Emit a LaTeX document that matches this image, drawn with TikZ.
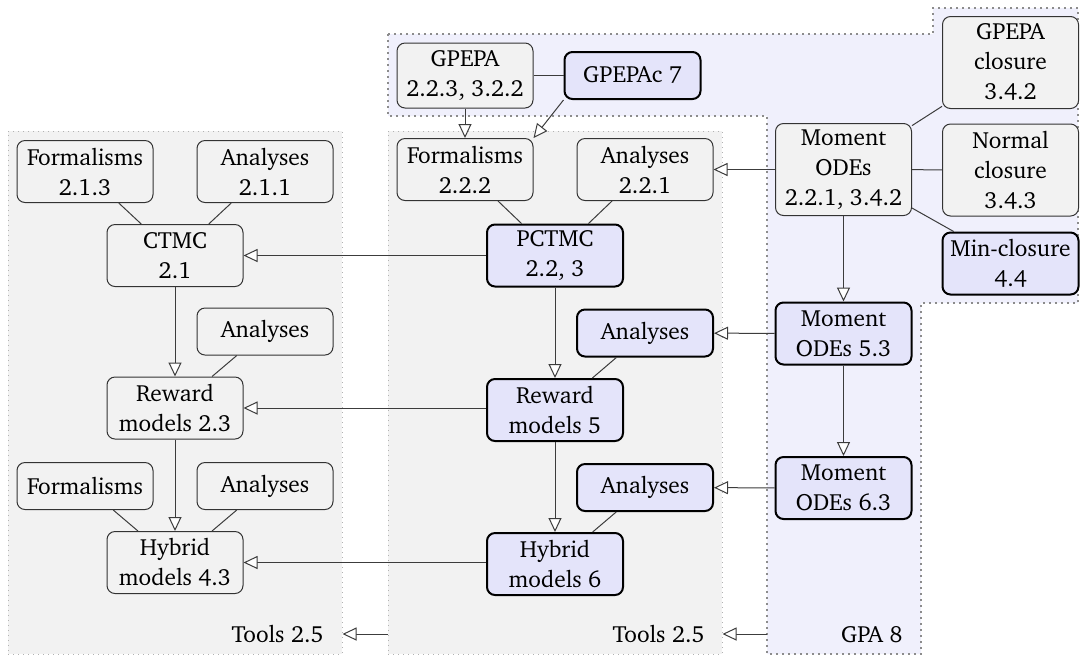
\documentclass[tikz,border=0pt]{standalone}
\usepackage[T1]{fontenc}
\usepackage{charter}
\usetikzlibrary{arrows.meta}

\definecolor{regiongray}{RGB}{242,242,242}
\definecolor{regionblue}{RGB}{240,240,252}
\definecolor{nodeblue}{RGB}{228,228,250}
\definecolor{edgegray}{RGB}{60,60,60}

\tikzset{
  box/.style={draw=black!80, fill=regiongray, line width=0.5pt,
    rounded corners=4pt, minimum width=68pt, inner sep=2pt, align=center},
  newbox/.style={box, draw=black, fill=nodeblue, line width=1pt},
  oneline/.style={minimum height=23.5pt},
  twoline/.style={minimum height=31pt},
  threeline/.style={minimum height=46pt},
  region/.style={draw=black!30, fill=regiongray, dotted, line width=0.5pt,
    inner sep=0pt},
  link/.style={draw=edgegray, line width=0.5pt},
  uses/.style={link, -{Triangle[open, fill=white, length=7pt, width=6.5pt]}},
  caption/.style={anchor=base east, inner sep=0pt}
}

\begin{document}
\begin{tikzpicture}[x=0.5pt, y=-0.5pt,
  font=\fontsize{11.7pt}{15pt}\selectfont]
\useasboundingbox (0,0) rectangle (1080,655);

% GPA region
\draw[fill=regionblue, draw=black!45, dotted, line width=1pt]
  (388,34) -- (933,34) -- (933,8) -- (1078,8) -- (1078,303) -- (921,303)
  -- (921,654) -- (767,654) -- (767,116) -- (388,116) -- cycle;
\coordinate (gpawest) at (767,634);

% tool regions
\node[region, minimum width=167pt, minimum height=261.5pt] (toolsleft) at (175,392.5) {};
\node[region, minimum width=167pt, minimum height=261.5pt] (toolsmid) at (555,392.5) {};

% CTMC column
\node[box, twoline] (f1) at (85,171.5) {Formalisms\\2.1.3};
\node[box, twoline] (a1) at (265,171.5) {Analyses\\2.1.1};
\node[box, twoline] (ctmc) at (175,255.5) {CTMC\\2.1};
\node[box, oneline] (a1b) at (265,331.5) {Analyses};
\node[box, twoline] (rw1) at (175,408) {Reward\\models 2.3};
\node[box, oneline] (f1c) at (85,486) {Formalisms};
\node[box, oneline] (a1c) at (265,486) {Analyses};
\node[box, twoline] (hy1) at (175,562.5) {Hybrid\\models 4.3};

% PCTMC column
\node[box, twoline] (f2) at (465,169.5) {Formalisms\\2.2.2};
\node[box, twoline] (a2) at (645,169.5) {Analyses\\2.2.1};
\node[newbox, twoline] (pctmc) at (555,255.5) {PCTMC\\2.2, 3};
\node[newbox, oneline] (a2b) at (645,333) {Analyses};
\node[newbox, twoline] (rw2) at (555,410) {Reward\\models 5};
\node[newbox, oneline] (a2c) at (645,487.5) {Analyses};
\node[newbox, twoline] (hy2) at (555,564) {Hybrid\\models 6};

% process algebras
\node[box, twoline, minimum height=32.5pt] (gpepa) at (465,75.5) {GPEPA\\2.2.3, 3.2.2};
\node[newbox, oneline] (gpepac) at (632.5,75.5) {GPEPAc 7};

% moment closures
\node[box, threeline] (mo) at (843.5,169.5) {Moment\\ODEs\\2.2.1, 3.4.2};
\node[box, threeline] (gc) at (1010.5,62.5) {GPEPA\\closure\\3.4.2};
\node[box, threeline] (nc) at (1010.5,170) {Normal\\closure\\3.4.3};
\node[newbox, twoline] (mc) at (1010.5,263.5) {Min-closure\\4.4};
\node[newbox, twoline] (mo5) at (843.5,333.5) {Moment\\ODEs 5.3};
\node[newbox, twoline] (mo6) at (843.5,488) {Moment\\ODEs 6.3};

% region captions
\node[caption] (t1) at (324,642) {Tools 2.5};
\node[caption] (t2) at (705,642) {Tools 2.5};
\node[caption] (t3) at (903,642) {GPA 8};

% connectors, CTMC column
\draw[link] (f1) -- (ctmc);
\draw[link] (a1) -- (ctmc);
\draw[uses] (ctmc) -- (rw1);
\draw[link] (a1b) -- (rw1);
\draw[uses] (rw1) -- (hy1);
\draw[link] (f1c) -- (hy1);
\draw[link] (a1c) -- (hy1);

% connectors, PCTMC column
\draw[link] (f2) -- (pctmc);
\draw[link] (a2) -- (pctmc);
\draw[uses] (pctmc) -- (rw2);
\draw[link] (a2b) -- (rw2);
\draw[uses] (rw2) -- (hy2);
\draw[link] (a2c) -- (hy2);

% population models generalise the CTMC ones
\draw[uses] (pctmc) -- (ctmc);
\draw[uses] (rw2.west |- rw1) -- (rw1);
\draw[uses] (hy2.west |- hy1) -- (hy1);

% process algebras
\draw[link] (gpepa) -- (gpepac);
\draw[uses] (gpepa) -- (f2);
\draw[uses] (gpepac.south west) -- (f2.north east);

% moment ODEs
\draw[uses] (mo) -- (a2);
\draw[link] (mo) -- (gc);
\draw[link] (mo) -- (nc);
\draw[link] (mo) -- (mc);
\draw[uses] (mo) -- (mo5);
\draw[uses] (mo5) -- (mo6);
\draw[uses] (mo5) -- (a2b);
\draw[uses] (mo6) -- (a2c);

% tools
\draw[uses] (gpawest) -- (toolsmid.east |- gpawest);
\draw[uses] (toolsmid.west |- gpawest) -- (toolsleft.east |- gpawest);
\end{tikzpicture}
\end{document}
